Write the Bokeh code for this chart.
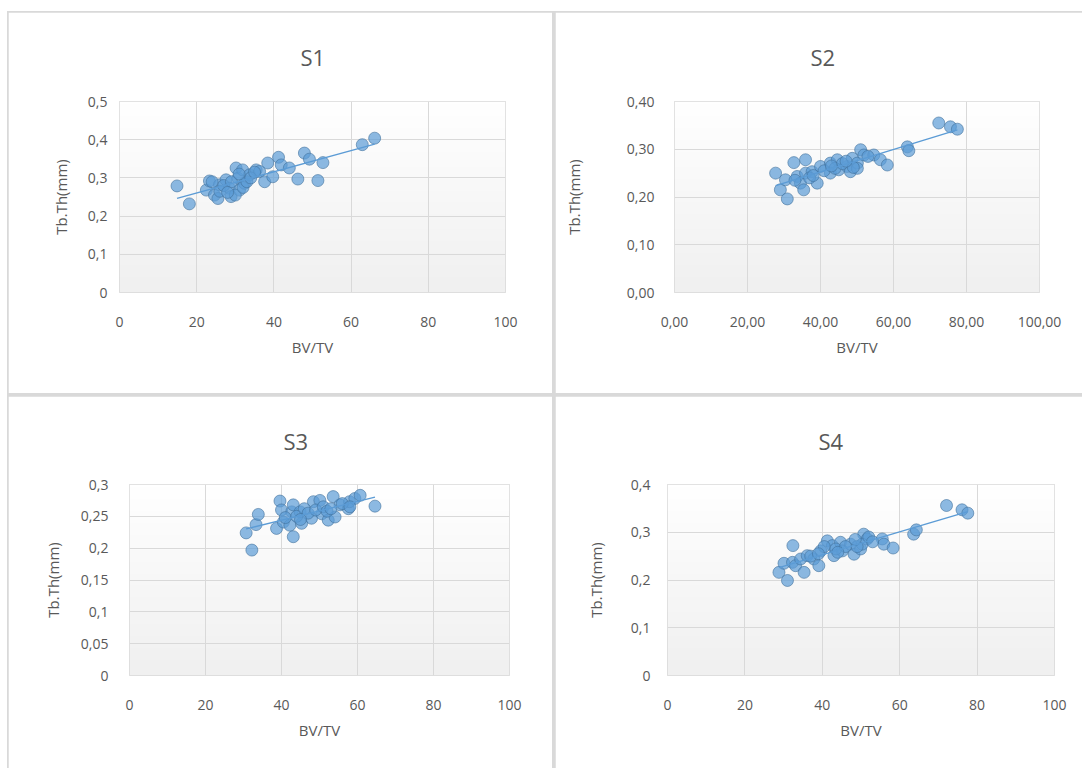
import numpy as np
from bokeh.plotting import figure
from bokeh.models import Range1d, FixedTicker, Title
from bokeh.layouts import row, column
from bokeh.embed import file_html
from bokeh.resources import INLINE

# ---------------- data ----------------
s1_x = [14.9, 18.1, 22.5, 23.3, 24.6, 25.5, 25.9, 27.6, 28.5, 28.9, 30.2, 30.7, 31.1, 31.9,
        32.4, 33.7, 35.4, 36.3, 37.6, 38.4, 39.7, 41.2, 41.9, 44.0, 46.2, 47.9, 49.2, 51.4,
        52.7, 62.9, 66.1, 26.0, 27.0, 29.0, 30.0, 32.0, 33.0, 34.0, 24.0, 28.0, 31.0, 35.0]
s1_y = [0.279, 0.232, 0.268, 0.292, 0.255, 0.246, 0.282, 0.295, 0.273, 0.251, 0.326, 0.299,
        0.268, 0.321, 0.286, 0.308, 0.321, 0.317, 0.290, 0.339, 0.303, 0.354, 0.334, 0.326,
        0.297, 0.365, 0.349, 0.293, 0.340, 0.387, 0.404, 0.265, 0.280, 0.290, 0.255, 0.275,
        0.290, 0.300, 0.290, 0.262, 0.310, 0.315]

s2_x = [27.7, 29.0, 30.9, 30.4, 32.7, 33.6, 34.5, 35.4, 35.9, 35.9, 37.7, 39.1, 40.0, 42.7,
        42.7, 44.6, 45.0, 47.3, 48.2, 48.7, 50.1, 51.0, 51.9, 50.1, 54.6, 56.4, 58.3, 63.8,
        64.2, 72.4, 75.6, 77.5, 33.0, 37.0, 41.0, 44.0, 46.0, 49.0, 53.0, 38.0, 43.0, 47.0]
s2_y = [0.250, 0.215, 0.196, 0.236, 0.272, 0.243, 0.229, 0.215, 0.278, 0.250, 0.253, 0.229,
        0.264, 0.271, 0.250, 0.278, 0.257, 0.264, 0.253, 0.281, 0.271, 0.299, 0.288, 0.260,
        0.288, 0.278, 0.267, 0.305, 0.297, 0.355, 0.347, 0.342, 0.235, 0.240, 0.255, 0.260,
        0.270, 0.262, 0.285, 0.245, 0.265, 0.275]

s3_x = [30.7, 32.2, 33.3, 33.9, 38.7, 39.6, 40.0, 40.5, 42.2, 43.1, 42.7, 43.1, 44.9, 45.3,
        47.9, 48.4, 50.1, 50.6, 52.3, 53.6, 54.1, 55.4, 57.6, 57.9, 59.3, 60.7, 64.6, 41.0,
        44.0, 46.0, 47.0, 49.0, 51.0, 52.0, 53.0, 56.0, 58.0, 45.0]
s3_y = [0.224, 0.197, 0.237, 0.253, 0.231, 0.274, 0.260, 0.241, 0.236, 0.218, 0.257, 0.268,
        0.257, 0.239, 0.247, 0.273, 0.275, 0.254, 0.244, 0.281, 0.249, 0.268, 0.262, 0.273,
        0.278, 0.283, 0.266, 0.248, 0.250, 0.262, 0.255, 0.260, 0.265, 0.258, 0.262, 0.270,
        0.265, 0.245]

s4_x = [28.8, 30.1, 31.0, 32.4, 32.3, 33.1, 34.4, 35.3, 36.1, 37.8, 39.1, 39.6, 41.3, 42.6,
        43.0, 44.7, 45.2, 47.3, 48.2, 49.9, 50.7, 51.6, 50.3, 55.5, 55.9, 58.3, 63.6, 64.3,
        72.1, 76.1, 77.6, 37.0, 40.5, 43.5, 46.0, 44.0, 49.0, 52.0, 48.5, 39.0, 53.0]
s4_y = [0.216, 0.235, 0.199, 0.272, 0.237, 0.230, 0.244, 0.216, 0.251, 0.244, 0.230, 0.261,
        0.282, 0.272, 0.251, 0.279, 0.261, 0.275, 0.254, 0.265, 0.296, 0.286, 0.275, 0.286,
        0.275, 0.267, 0.296, 0.305, 0.356, 0.347, 0.340, 0.250, 0.270, 0.265, 0.270, 0.258,
        0.270, 0.290, 0.285, 0.255, 0.280]

titles = ["S1", "S2", "S3", "S4"]
x_label = "BV/TV"
y_label = "Tb.Th(mm)"

x_ticks = [0, 20, 40, 60, 80, 100]
x_tick_labels_int = ["0", "20", "40", "60", "80", "100"]
x_tick_labels_dec = ["0,00", "20,00", "40,00", "60,00", "80,00", "100,00"]

s1_y_ticks = [0, 0.1, 0.2, 0.3, 0.4, 0.5]
s1_y_labels = ["0", "0,1", "0,2", "0,3", "0,4", "0,5"]
s2_y_ticks = [0, 0.1, 0.2, 0.3, 0.4]
s2_y_labels = ["0,00", "0,10", "0,20", "0,30", "0,40"]
s3_y_ticks = [0, 0.05, 0.1, 0.15, 0.2, 0.25, 0.3]
s3_y_labels = ["0", "0,05", "0,1", "0,15", "0,2", "0,25", "0,3"]
s4_y_ticks = [0, 0.1, 0.2, 0.3, 0.4]
s4_y_labels = ["0", "0,1", "0,2", "0,3", "0,4"]

# ---------------- styling ----------------
FONT = "Open Sans"
TXT = "#595959"
GRID = "#d9d9d9"
MARK = "#5B9BD5"


def gradient_image():
    n = 64
    g = np.linspace(240, 255, n).astype(np.uint8)
    img = np.empty((n, 1), dtype=np.uint32)
    v = img.view(dtype=np.uint8).reshape((n, 1, 4))
    v[:, 0, 0] = g
    v[:, 0, 1] = g
    v[:, 0, 2] = g
    v[:, 0, 3] = 255
    return img


def panel(title, xs, ys, y_ticks, y_labels, x_labels, w, h, mb, t_off, t_stand,
          ylab_standoff, ytick_standoff):
    ymax = y_ticks[-1]
    p = figure(width=w, height=h, output_backend="svg", toolbar_location=None,
               x_range=Range1d(0, 100), y_range=Range1d(0, ymax),
               min_border_left=mb[0], min_border_right=mb[1],
               min_border_top=mb[2], min_border_bottom=mb[3])
    p.background_fill_color = "white"
    p.border_fill_color = "white"
    p.outline_line_color = GRID
    p.outline_line_width = 1

    p.title = Title(text=title, align="left", offset=t_off, standoff=t_stand,
                    vertical_align="top", text_font=FONT, text_font_size="22px",
                    text_font_style="normal", text_color=TXT)

    bg = p.image_rgba(image=[gradient_image()], x=0, y=0, dw=100, dh=ymax)
    bg.level = "image"

    p.xgrid.grid_line_color = GRID
    p.ygrid.grid_line_color = GRID

    xax = p.below[0]
    yax = p.left[0]
    xax.ticker = FixedTicker(ticks=x_ticks)
    yax.ticker = FixedTicker(ticks=y_ticks)
    xax.major_label_overrides = {t: l for t, l in zip(x_ticks, x_labels)}
    yax.major_label_overrides = {t: l for t, l in zip(y_ticks, y_labels)}

    for ax in (xax, yax):
        ax.axis_line_color = None
        ax.major_tick_line_color = None
        ax.minor_tick_line_color = None
        ax.major_tick_out = 0
        ax.major_tick_in = 0
        ax.major_label_text_font = FONT
        ax.major_label_text_font_size = "14px"
        ax.major_label_text_color = TXT
        ax.axis_label_text_font = FONT
        ax.axis_label_text_font_size = "15px"
        ax.axis_label_text_color = TXT
        ax.axis_label_text_font_style = "normal"

    xax.axis_label = x_label
    yax.axis_label = y_label
    xax.major_label_standoff = 24
    xax.axis_label_standoff = 7
    yax.major_label_standoff = ytick_standoff
    yax.axis_label_standoff = ylab_standoff

    p.scatter(xs, ys, size=12, fill_color=MARK, fill_alpha=0.7,
              line_color="#41719C", line_alpha=0.6, line_width=1)

    xa = np.array(xs)
    ya = np.array(ys)
    k, b = np.polyfit(xa, ya, 1)
    lx = [xa.min(), xa.max()]
    p.line(lx, [k * lx[0] + b, k * lx[1] + b], line_color=MARK, line_width=1.3)
    return p


p1 = panel(titles[0], s1_x, s1_y, s1_y_ticks, s1_y_labels, x_tick_labels_int,
           544, 381, (111, 47, 89, 101), 181, 56, 14, 12)
p2 = panel(titles[1], s2_x, s2_y, s2_y_ticks, s2_y_labels, x_tick_labels_dec,
           527, 381, (119, 43, 89, 100), 136, 56, 40, 20)
p3 = panel(titles[2], s3_x, s3_y, s3_y_ticks, s3_y_labels, x_tick_labels_int,
           544, 372, (121, 43, 87, 93), 154, 54, 15, 21)
p4 = panel(titles[3], s4_x, s4_y, s4_y_ticks, s4_y_labels, x_tick_labels_int,
           527, 372, (112, 28, 88, 93), 151, 54, 22, 17)

top = row(p1, p2, spacing=3)
bottom = row(p3, p4, spacing=3)
layout = column(top, bottom, spacing=3,
                styles={"background-color": "#d9d9d9", "padding": "1px 0 0 1px",
                        "margin-left": "7px", "margin-top": "11px"})

open("out.html", "w").write(file_html(layout, INLINE))
